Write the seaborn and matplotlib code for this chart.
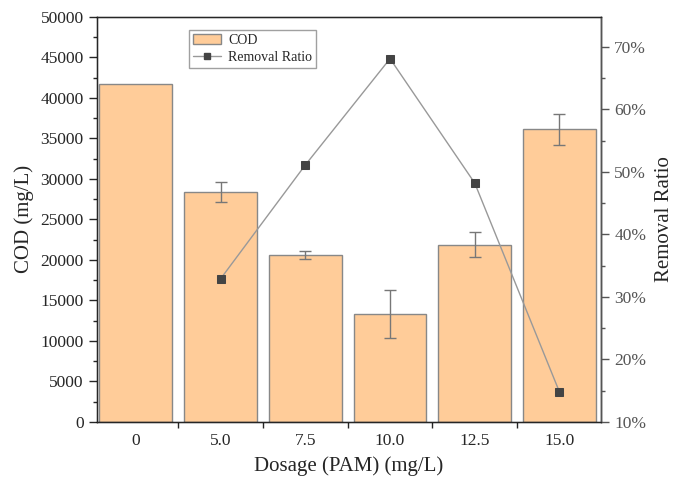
import numpy as np
import pandas as pd
import matplotlib
matplotlib.use("Agg")
import matplotlib.pyplot as plt
import seaborn as sns
from matplotlib.patches import Patch
from matplotlib.lines import Line2D
from matplotlib.ticker import MultipleLocator, FuncFormatter

dosage = ["0", "5.0", "7.5", "10.0", "12.5", "15.0"]
cod = [41750, 28400, 20600, 13350, 21900, 36100]
cod_err = [0, 1250, 500, 2950, 1550, 1950]

ratio_dosage = ["5.0", "7.5", "10.0", "12.5", "15.0"]
ratio = [32.9, 51.1, 68.1, 48.2, 14.8]

sns.set_style("ticks")
plt.rcParams['font.family'] = ['Liberation Serif', 'DejaVu Serif']

df = pd.DataFrame({"dosage": dosage, "cod": cod})

fig = plt.figure(figsize=(6.73, 4.79), dpi=100)
ax = fig.add_axes([0.144, 0.119, 0.749, 0.846])

sns.barplot(data=df, x="dosage", y="cod", color="#FFCC99", saturation=1,
            edgecolor="#888888", linewidth=1, width=0.86, ax=ax)
pos = np.arange(len(dosage))
err = np.array(cod_err)
mask = err > 0
ax.errorbar(pos[mask], np.array(cod)[mask], yerr=err[mask], fmt="none",
            ecolor="#777777", elinewidth=1, capsize=4, capthick=1)

ax.set_xlim(-0.46, 5.49)
ax.set_ylim(0, 50000)
ax.yaxis.set_major_locator(MultipleLocator(5000))
ax.yaxis.set_minor_locator(MultipleLocator(2500))
ax.set_xticks(pos)
ax.set_xticks(pos[:-1] + 0.5, minor=True)
ax.tick_params(axis="x", which="major", length=0, labelsize=12.5, pad=8)
ax.tick_params(axis="x", which="minor", length=4, direction="out", width=1)
ax.tick_params(axis="y", which="major", length=6, direction="out", width=1, labelsize=12.5)
ax.tick_params(axis="y", which="minor", length=3, direction="out", width=1)
ax.set_xlabel("Dosage (PAM) (mg/L)", fontsize=15, labelpad=5)
ax.set_ylabel("COD (mg/L)", fontsize=15, labelpad=5)
for s in ax.spines.values():
    s.set_color("black")
    s.set_linewidth(1)

ax2 = ax.twinx()
rx = [dosage.index(d) for d in ratio_dosage]
sns.lineplot(x=rx, y=ratio, ax=ax2, color="#999999", linewidth=1,
             marker="s", markersize=6, markerfacecolor="#444444",
             markeredgecolor="#444444")
ax2.set_ylim(10, 74.8)
ax2.yaxis.set_major_locator(MultipleLocator(10))
ax2.yaxis.set_minor_locator(MultipleLocator(5))
ax2.yaxis.set_major_formatter(FuncFormatter(lambda v, p: f"{v:.0f}%"))
ax2.tick_params(axis="y", which="major", length=6, direction="out", width=1,
                labelsize=12.5, labelcolor="#555555", color="#555555")
ax2.tick_params(axis="y", which="minor", length=3, direction="out", width=1, color="#555555")
ax2.set_ylabel("Removal Ratio", fontsize=15, labelpad=6)
ax2.spines["right"].set_color("#555555")
ax2.spines["right"].set_linewidth(1)

handles = [Patch(facecolor="#FFCC99", edgecolor="#888888", label="COD"),
           Line2D([], [], color="#999999", lw=1, marker="s", markersize=5,
                  markerfacecolor="#444444", markeredgecolor="#444444",
                  label="Removal Ratio")]
ax2.legend(handles=handles, loc="upper left", bbox_to_anchor=(0.183, 0.968),
           fontsize=10, frameon=True, fancybox=False, edgecolor="#888888",
           borderpad=0.3, handlelength=2.0, labelspacing=0.3, borderaxespad=0,
           handletextpad=0.5)

fig.savefig("out.png", dpi=100)
